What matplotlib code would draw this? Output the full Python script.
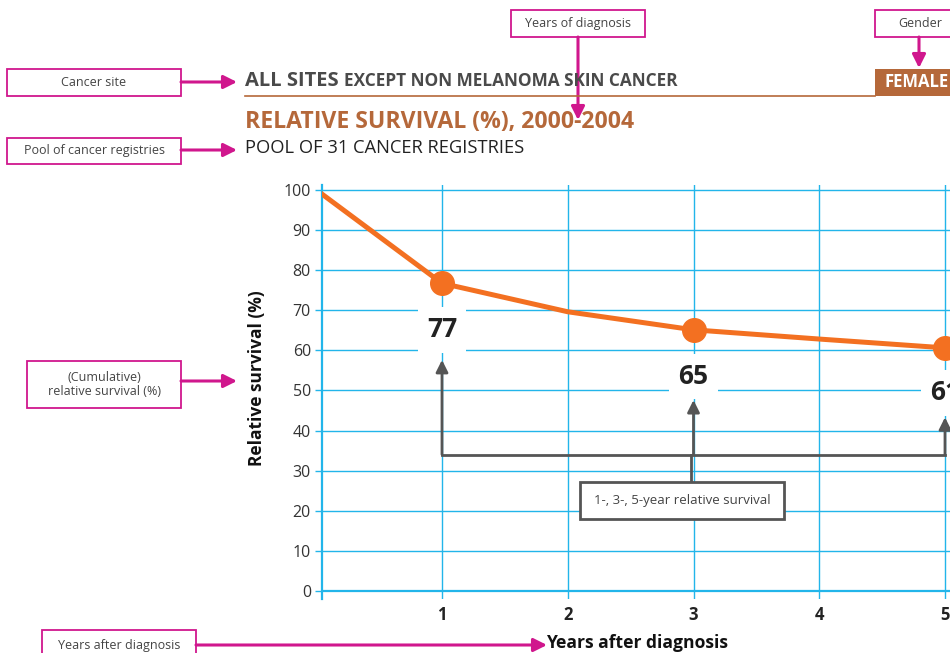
import matplotlib
matplotlib.use("Agg")
import matplotlib.pyplot as plt
from matplotlib.patches import Rectangle

plt.rcParams['font.family'] = ['Open Sans', 'DejaVu Sans']

# data
years = [0, 1, 2, 3, 4, 5]
survival = [100, 76.7, 69.6, 65.1, 62.8, 60.6]
marked_years = [1, 3, 5]
marked_values = [77, 65, 61]
label_y = [65.1, 53.4, 49.4]
arrow_top = [57.6, 47.6, 43.3]
yticks = list(range(0, 101, 10))
xticks = [1, 2, 3, 4, 5]

W, H = 950, 653
blue = '#22b5ea'
orange = '#f37021'
brown = '#b5683a'
magenta = '#d0178d'
darkgray = '#555555'

fig = plt.figure(figsize=(9.5, 6.53), dpi=100)

# main chart, pixel-placed
x1p, x5p = 442, 945
ppu = (x5p - x1p) / 4.0
x0p = x1p - ppu
xmin = (322 - x0p) / ppu
xmax = 5.4
ax_w = (xmax - xmin) * ppu
ax = fig.add_axes([322 / W, 1 - 599 / H, ax_w / W, (599 - 185) / H])
ax.set_xlim(xmin, xmax)
ax.set_ylim(-2, 101.2)

for sp in ['top', 'right', 'bottom']:
    ax.spines[sp].set_visible(False)
ax.spines['left'].set_color(blue)
ax.spines['left'].set_linewidth(1.6)

for y in yticks:
    ax.axhline(y, color=blue, lw=1.6 if y == 0 else 1.0, zorder=0)
for x in xticks:
    ax.axvline(x, color=blue, lw=1.0, zorder=0)

ax.set_yticks(yticks)
ax.set_yticklabels([str(v) for v in yticks], fontsize=11.5, color='#333333')
ax.tick_params(axis='y', color=blue, length=5, width=1.0, pad=3)
ax.set_xticks(xticks)
ax.set_xticklabels([str(v) for v in xticks], fontsize=12, fontweight='bold', color='#222222')
ax.tick_params(axis='x', length=0, pad=5)
ax.set_ylabel('Relative survival (%)', fontsize=12.5, fontweight='bold', color='#111111')
ax.yaxis.set_label_coords((266 - 322) / ax_w, (599 - 378) / 414)

ax.plot(years, survival, color=orange, lw=3.6, zorder=3, solid_capstyle='butt')
ax.plot(marked_years, [survival[years.index(x)] for x in marked_years], 'o',
        color=orange, ms=17, zorder=4, clip_on=False)

for x, v, ly in zip(marked_years, marked_values, label_y):
    ax.text(x, ly, str(v), ha='center', va='center', fontsize=19, fontweight='bold',
            color='#222222', zorder=5,
            bbox=dict(boxstyle='square,pad=0.35', fc='white', ec='none'))

# bracket with arrows
ax.plot([1, 5], [34, 34], color=darkgray, lw=2, zorder=5, clip_on=False)
for x, top in zip(marked_years, arrow_top):
    ax.annotate('', xy=(x, top), xytext=(x, 34),
                arrowprops=dict(arrowstyle='-|>', color=darkgray, lw=2,
                                mutation_scale=18, shrinkA=0, shrinkB=0),
                zorder=5, annotation_clip=False)
ax.plot([2.98, 2.98], [34, 27.2], color=darkgray, lw=2, zorder=5)
ax.add_patch(Rectangle((2.10, 18.0), 1.62, 9.2, fc='white', ec=darkgray, lw=2, zorder=5))
ax.text(2.91, 22.6, '1-, 3-, 5-year relative survival', ha='center', va='center',
        fontsize=9.5, color='#444444', zorder=6)

# headings
def fx(px):
    return px / W

def fy(py):
    return 1 - py / H

t1 = fig.text(fx(245), fy(86), 'ALL SITES ', fontsize=14.5, fontweight='bold',
              color='#4a4a4a', va='baseline')
fig.canvas.draw()
bb = t1.get_window_extent()
fig.text(bb.x1 / W, fy(86), 'EXCEPT NON MELANOMA SKIN CANCER', fontsize=12.4,
         fontweight='bold', color='#4a4a4a', va='baseline')
fig.add_artist(plt.Line2D([fx(245), fx(875)], [fy(96), fy(96)], color=brown, lw=1.2))
fig.add_artist(Rectangle((fx(875), fy(96)), fx(80), 27 / H, fc=brown, ec='none'))
fig.text(fx(885), fy(82), 'FEMALE', fontsize=12, fontweight='bold', color='white',
         va='center', ha='left')

fig.text(fx(245), fy(122), 'RELATIVE SURVIVAL (%), 2000-2004', fontsize=16.6,
         fontweight='bold', color=brown, va='center')
fig.text(fx(245), fy(148), 'POOL OF 31 CANCER REGISTRIES', fontsize=13.2,
         color='#222222', va='center')
fig.text(fx(546), fy(643), 'Years after diagnosis', fontsize=12.6, fontweight='bold',
         color='#111111', va='center', ha='left')

# magenta call-out boxes
def callout(x1, y1, x2, y2, text, size=9):
    fig.add_artist(Rectangle((fx(x1), fy(y2)), (x2 - x1) / W, (y2 - y1) / H,
                             fc='white', ec=magenta, lw=1.3))
    fig.text(fx((x1 + x2) / 2), fy((y1 + y2) / 2), text, ha='center', va='center',
             fontsize=size, color='#444444', linespacing=1.1)

def marrow(xa, ya, xb, yb):
    fig.add_artist(matplotlib.patches.FancyArrowPatch(
        (fx(xa), fy(ya)), (fx(xb), fy(yb)), transform=fig.transFigure,
        arrowstyle='-|>', mutation_scale=20, color=magenta, lw=2.2,
        shrinkA=0, shrinkB=0))

callout(7, 69, 181, 96, 'Cancer site')
marrow(181, 82, 237, 82)
callout(7, 138, 181, 164, 'Pool of cancer registries')
marrow(181, 150, 237, 150)
callout(27, 361, 181, 408, '(Cumulative)\nrelative survival (%)')
marrow(181, 381, 237, 381)
callout(42, 630, 196, 660, 'Years after diagnosis')
marrow(196, 645, 547, 645)
callout(511, 10, 645, 37, 'Years of diagnosis')
marrow(578, 37, 578, 120)
callout(875, 10, 965, 37, 'Gender')
marrow(919, 37, 919, 68)

fig.savefig('out.png', dpi=100)
